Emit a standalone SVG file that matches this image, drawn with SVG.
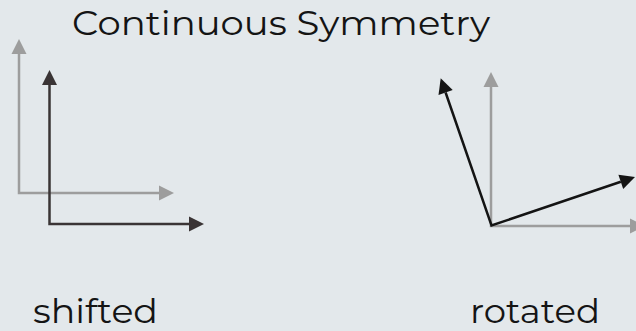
<svg xmlns="http://www.w3.org/2000/svg" width="636" height="331" viewBox="0 0 636 331">
<style>
.t{font-family:"Montserrat","Noto Sans","Open Sans",sans-serif;font-size:33px;fill:#141414}
.ax{fill:none;stroke-width:2.5;stroke-linejoin:miter}
.g{stroke:#9d9d9d;marker-start:url(#mg);marker-end:url(#mg)}
.d{stroke:#3a3435;marker-start:url(#md);marker-end:url(#md)}
.k{stroke:#141414;marker-start:url(#mk);marker-end:url(#mk)}
</style>
<defs>
<marker id="mg" markerUnits="userSpaceOnUse" markerWidth="16" markerHeight="16" refX="0" refY="7.5" orient="auto-start-reverse" overflow="visible"><path d="M0,0 L15,7.5 L0,15 z" fill="#9d9d9d"/></marker>
<marker id="md" markerUnits="userSpaceOnUse" markerWidth="16" markerHeight="16" refX="0" refY="7.5" orient="auto-start-reverse" overflow="visible"><path d="M0,0 L15,7.5 L0,15 z" fill="#3a3435"/></marker>
<marker id="mk" markerUnits="userSpaceOnUse" markerWidth="16" markerHeight="16" refX="0" refY="7.5" orient="auto-start-reverse" overflow="visible"><path d="M0,0 L15,7.5 L0,15 z" fill="#141414"/></marker>
</defs>
<rect width="636" height="331" fill="#e3e8eb"/>
<g id="title"><text class="t" x="72" y="35" textLength="418" lengthAdjust="spacingAndGlyphs">Continuous Symmetry</text></g>
<g id="shifted">
<path class="ax g" d="M19,54 L19,193 L159,193"/>
<path class="ax d" d="M49.5,85 L49.5,224 L189,224"/>
<text class="t" x="33" y="323" textLength="125" lengthAdjust="spacingAndGlyphs">shifted</text>
</g>
<g id="rotated">
<path class="ax g" d="M491,87 L491,226 L630,226"/>
<path class="ax k" d="M445.6,92.5 L491.5,225.5 L620.8,181.8"/>
<text class="t" x="470" y="323" textLength="130" lengthAdjust="spacingAndGlyphs">rotated</text>
</g>
</svg>
